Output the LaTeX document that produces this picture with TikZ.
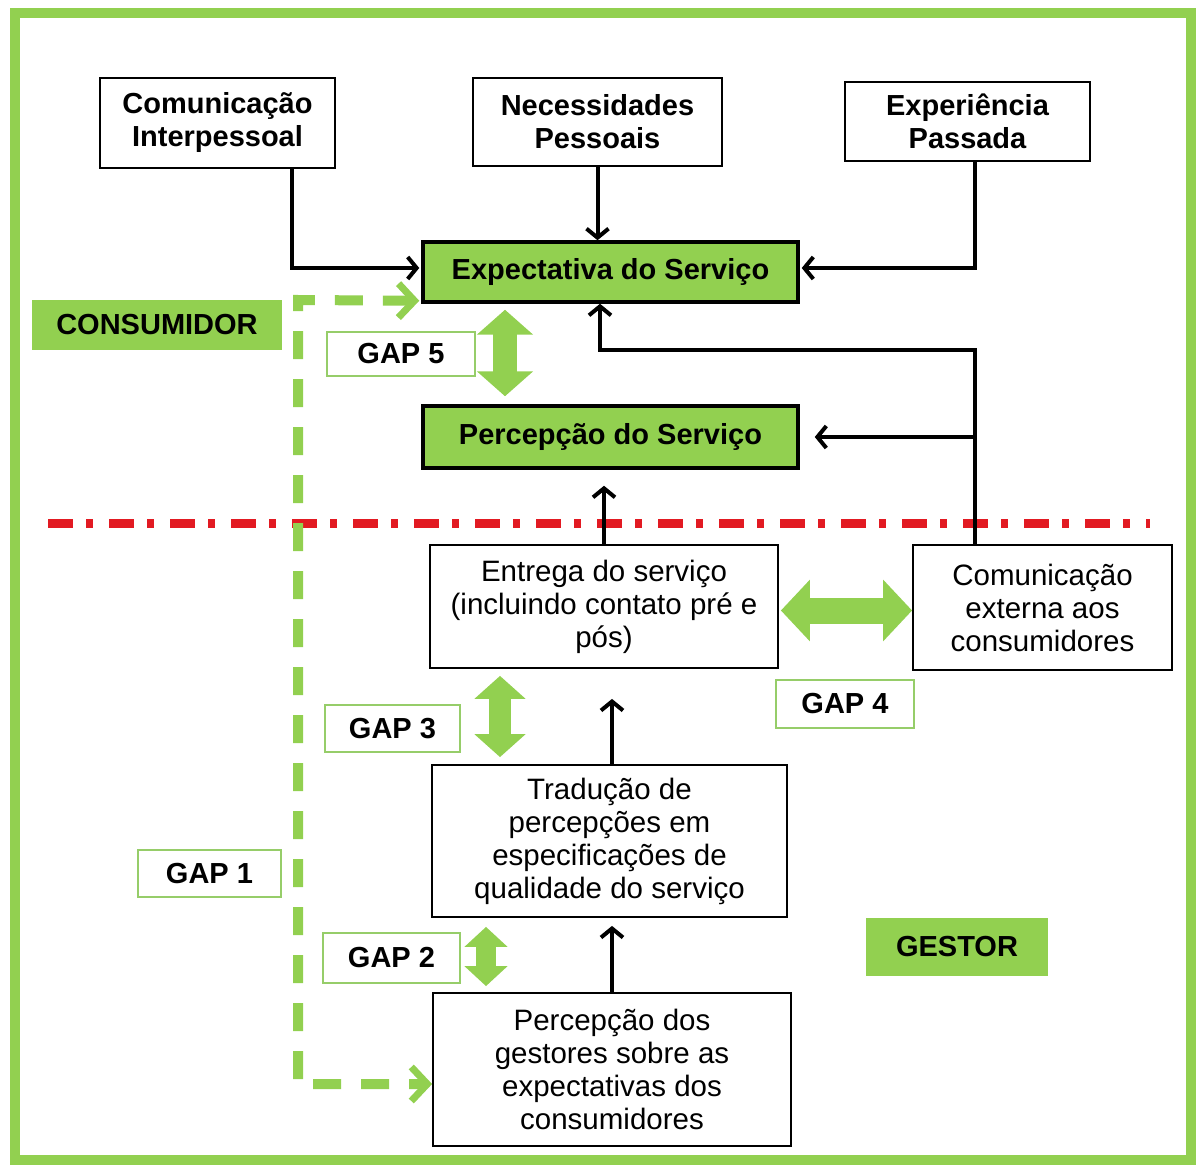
\documentclass[tikz,border=0pt]{standalone}
\usepackage{fontspec}
\setmainfont{Liberation Sans}
\usetikzlibrary{arrows.meta,calc}
\definecolor{lgreen}{RGB}{146,208,80}
\definecolor{gapline}{RGB}{150,205,105}
\definecolor{redline}{RGB}{226,26,34}
\begin{document}
\begin{tikzpicture}[x=1pt,y=-1pt,
  bfont/.style={font=\fontsize{29}{33}\selectfont\bfseries},
  rfont/.style={font=\fontsize{29.5}{33}\selectfont},
  topbox/.style={draw=black,line width=1.8pt,fill=white,bfont,align=center,inner sep=0pt},
  keybox/.style={draw=black,line width=3.5pt,fill=lgreen,bfont,align=center,inner sep=0pt},
  lowbox/.style={draw=black,line width=1.8pt,fill=white,rfont,align=center,inner sep=0pt},
  gapbox/.style={draw=gapline,line width=1.8pt,fill=white,bfont,align=center,inner sep=0pt},
  rolebox/.style={fill=lgreen,bfont,align=center,inner sep=0pt},
  conn/.style={draw=black,line width=4pt,-{Straight Barb[length=9pt,width=22pt,line width=4pt]}},
  gdash/.style={draw=lgreen,line width=10pt,dash pattern=on 28pt off 20pt,
     {Straight Barb[length=16pt,width=34pt,line width=7pt]}-{Straight Barb[length=16pt,width=34pt,line width=7pt]}},
]
\useasboundingbox (0,0) rectangle (1197,1166);
\fill[white] (0,0) rectangle (1197,1166);
% outer frame
\draw[lgreen,line width=10pt] (15,13) rectangle (1191,1160);

% nodes
\node[topbox,minimum width=235pt,minimum height=90pt] (ci) at (217.5,123) {Comunicação\\Interpessoal};
\node[topbox,minimum width=249pt,minimum height=88pt] (np) at (597.5,122) {Necessidades\\Pessoais};
\node[topbox,minimum width=245pt,minimum height=79pt] (ep) at (967.5,121.5) {Experiência\\Passada};
\node[keybox,minimum width=375pt,minimum height=60pt] (exp) at (610.5,272) {Expectativa do Serviço};
\node[rolebox,minimum width=250pt,minimum height=50pt] (cons) at (157,325) {CONSUMIDOR};
\node[gapbox,minimum width=148pt,minimum height=44pt] (g5) at (401,354) {GAP 5};
\node[keybox,minimum width=375pt,minimum height=62pt] (perc) at (610.5,437) {Percepção do Serviço};
\node[lowbox,minimum width=348pt,minimum height=123pt] (ent) at (604,606.5) {Entrega do serviço\\(incluindo contato pré e\\pós)};
\node[lowbox,minimum width=259pt,minimum height=125pt] (cext) at (1042.5,607.5) {Comunicação\\externa aos\\consumidores};
\node[gapbox,minimum width=138pt,minimum height=48pt] (g4) at (845,704) {GAP 4};
\node[gapbox,minimum width=135pt,minimum height=47pt] (g3) at (392.5,728.5) {GAP 3};
\node[lowbox,minimum width=355pt,minimum height=152pt] (trad) at (609.5,841) {Tradução de\\percepções em\\especificações de\\qualidade do serviço};
\node[gapbox,minimum width=143pt,minimum height=47pt] (g1) at (209.5,873.5) {GAP 1};
\node[gapbox,minimum width=137pt,minimum height=50pt] (g2) at (391.5,958) {GAP 2};
\node[rolebox,minimum width=182pt,minimum height=58pt] (gestor) at (957,947) {GESTOR};
\node[lowbox,minimum width=358pt,minimum height=153pt] (pg) at (612,1069.5) {Percepção dos\\gestores sobre as\\expectativas dos\\consumidores};

% red separator
\coordinate (rl) at (48,523);
\coordinate (rr) at (1150,523);
\draw[redline,line width=9pt,dash pattern=on 25pt off 13pt on 7pt off 16pt] (rl) -- (rr);

% black connectors
\draw[conn] ($(ci.south)+(74.5,0)$) |- ($(exp.west)+(-2,-4)$);
\draw[conn] (np.south) -- (np.south |- exp.north);
\draw[conn] ($(ep.south)+(7.5,0)$) |- ($(exp.east)+(2,-4)$);
\coordinate (jn) at (975,350);
\draw[conn] ($(cext.north)+(-67.5,0)$) -- (jn) -| ($(exp.south)+(-10.5,0)$);
\draw[conn,shorten >=15pt] (jn |- perc.east) -- (perc.east);
\draw[conn,shorten >=16pt] (ent.north) -- (ent.north |- perc.south);
\coordinate (tn) at ($(trad.north)+(2.5,0)$);
\coordinate (te) at ($(ent.south)+(8,0)$);
\draw[conn,shorten >=30pt] (tn) -- (tn |- te);
\draw[conn,shorten >=8pt] (pg.north) -- (pg.north |- trad.south);

% green double arrows
\coordinate (a5s) at ($(exp.south)+(-105.5,6)$);
\coordinate (a5e) at ($(perc.north)+(-105.5,-8)$);
\draw[lgreen,line width=24pt,{Triangle[length=25pt,width=55pt]}-{Triangle[length=25pt,width=55pt]}] (a5s) -- (a5e);
\coordinate (a4s) at ($(ent.east)+(2,4)$);
\coordinate (a4e) at ($(cext.west)+(0,3)$);
\draw[lgreen,line width=26pt,{Triangle[length=29pt,width=60pt]}-{Triangle[length=29pt,width=60pt]}] (a4s) -- (a4s -| a4e);
\coordinate (a3s) at ($(ent.south)+(-104,7)$);
\coordinate (a3e) at ($(trad.north)+(-109.5,-7)$);
\draw[lgreen,line width=22pt,{Triangle[length=23pt,width=50pt]}-{Triangle[length=23pt,width=50pt]}] (a3s) -- (a3e);
\coordinate (a2s) at ($(trad.south)+(-123.5,9)$);
\coordinate (a2e) at ($(pg.north)+(-126,-6)$);
\draw[lgreen,line width=20pt,{Triangle[length=20pt,width=42pt]}-{Triangle[length=20pt,width=42pt]}] (a2s) -- (a2e);

% green dashed GAP 1 line
\coordinate (c1) at (298,300);
\coordinate (c2) at (298,1084);
\coordinate (ex0) at ($(exp.south west)+(-2,-3)$);
\draw[gdash] (ex0) -- (c1) -- (c2) -- (c2 -| pg.west);
\end{tikzpicture}
\end{document}
